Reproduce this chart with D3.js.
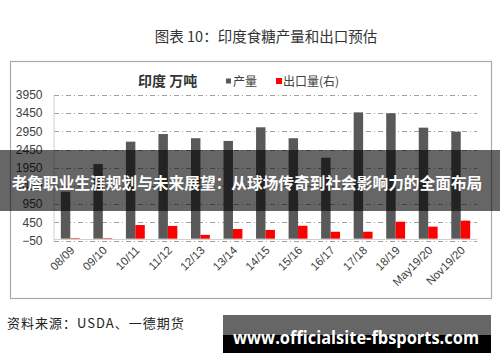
<!DOCTYPE html>
<html>
<head>
<meta charset="utf-8">
<script src="https://cdn.jsdelivr.net/npm/d3@7"></script>
<style>
  body { margin: 0; background: #fff; }
  svg { display: block; }
</style>
</head>
<body>
<div id="chart"></div>
<script>
// Data (万吨)
const seasons = ["08/09", "09/10", "10/11", "11/12", "12/13", "13/14", "14/15",
  "15/16", "16/17", "17/18", "18/19", "May19/20", "Nov19/20"];
const production = [1290, 2050, 2665, 2875, 2760, 2685, 3060, 2760, 2225, 3470, 3445, 3050, 2940];
const exports = [15, 15, 375, 350, 105, 265, 240, 355, 190, 190, 465, 330, 495];
const yTicks = [-50, 450, 950, 1450, 1950, 2450, 2950, 3450, 3950];

const w = 500;
const h = 362;
const cjk = "'Noto Sans CJK SC', sans-serif";

/************************************
 * Build the chart
 ************************************/
const svg = d3.select("#chart")
  .append("svg")
  .attr("width", w)
  .attr("height", h);

// Page title
svg.append("text")
  .attr("x", 266)
  .attr("y", 42)
  .attr("text-anchor", "middle")
  .style("font-family", cjk)
  .style("font-size", "14.5px")
  .style("fill", "#333")
  .text("图表 10：印度食糖产量和出口预估");

// Chart frame
svg.append("rect")
  .attr("x", 10.5)
  .attr("y", 61.5)
  .attr("width", 481)
  .attr("height", 237)
  .style("fill", "#fff")
  .style("stroke", "#aaa")
  .style("stroke-width", 1.2);

// Scales
const x0 = d3.scaleBand()
  .domain(seasons)
  .range([54, 477])
  .paddingInner(0.42)
  .paddingOuter(0.21);

const x1 = d3.scaleBand()
  .domain(["prod", "exp"])
  .range([0, x0.bandwidth()]);

const yLeft = d3.scaleLinear()
  .domain([-50, 3950])
  .range([240.5, 94.9]);

// right axis is not drawn, same range as left
const yRight = d3.scaleLinear()
  .domain([-50, 3950])
  .range([240.5, 94.9]);

// Gridlines
svg.append("g")
  .selectAll("line")
  .data(yTicks)
  .enter()
  .append("line")
  .attr("x1", 54)
  .attr("x2", 477)
  .attr("y1", d => Math.round(yLeft(d)) + 0.5)
  .attr("y2", d => Math.round(yLeft(d)) + 0.5)
  .style("stroke", "#a0a0a0")
  .style("stroke-dasharray", "5,3,1,3");

// Left axis
const yAxis = d3.axisLeft(yLeft)
  .tickValues(yTicks)
  .tickFormat(d3.format("d"))
  .tickSize(0)
  .tickPadding(11);

svg.append("g")
  .attr("transform", "translate(53.5,0)")
  .call(yAxis)
  .call(g => g.select(".domain").style("stroke", "#d0d0d0"))
  .call(g => g.selectAll("text")
    .style("font-family", "'Liberation Sans', Arial, sans-serif")
    .style("font-size", "12px")
    .style("fill", "#404040"));

// Bars
const groups = svg.append("g")
  .selectAll("g")
  .data(seasons)
  .enter()
  .append("g")
  .attr("transform", d => "translate(" + x0(d) + ",0)");

groups.append("rect")
  .attr("x", x1("prod"))
  .attr("y", (d, i) => yLeft(production[i]))
  .attr("width", x1.bandwidth())
  .attr("height", (d, i) => yLeft(0) - yLeft(production[i]))
  .style("fill", "#595959");

groups.append("rect")
  .attr("x", x1("exp"))
  .attr("y", (d, i) => yRight(exports[i]))
  .attr("width", x1.bandwidth())
  .attr("height", (d, i) => yRight(0) - yRight(exports[i]))
  .style("fill", "#ff0000");

// x axis line
svg.append("line")
  .attr("x1", 54)
  .attr("x2", 477)
  .attr("y1", Math.round(yLeft(0)) + 0.5)
  .attr("y2", Math.round(yLeft(0)) + 0.5)
  .style("stroke", "#d0d0d0");

// Category labels
svg.append("g")
  .selectAll("text")
  .data(seasons)
  .enter()
  .append("text")
  .attr("transform", d => "translate(" + (x0(d) + x0.bandwidth() / 2 + 5) + ",251) rotate(-45)")
  .attr("text-anchor", "end")
  .style("font-family", "'Liberation Sans', Arial, sans-serif")
  .style("font-size", "11.5px")
  .style("fill", "#404040")
  .text(d => d);

// Chart title & legend
svg.append("text")
  .attr("x", 138)
  .attr("y", 86)
  .style("font-family", cjk)
  .style("font-size", "14px")
  .style("font-weight", "bold")
  .style("fill", "#333")
  .text("印度 万吨");

svg.append("rect")
  .attr("x", 226)
  .attr("y", 78.5)
  .attr("width", 5)
  .attr("height", 5)
  .style("fill", "#595959");

svg.append("text")
  .attr("x", 233)
  .attr("y", 86)
  .style("font-family", cjk)
  .style("font-size", "12px")
  .style("fill", "#404040")
  .text("产量");

svg.append("rect")
  .attr("x", 276)
  .attr("y", 78)
  .attr("width", 6)
  .attr("height", 6)
  .style("fill", "#ff0000");

svg.append("text")
  .attr("x", 283)
  .attr("y", 86)
  .style("font-family", cjk)
  .style("font-size", "12px")
  .style("fill", "#404040")
  .text("出口量(右)");

// Source
svg.append("text")
  .attr("x", 7)
  .attr("y", 328)
  .style("font-family", cjk)
  .style("font-size", "13px")
  .style("letter-spacing", "1px")
  .style("fill", "#222")
  .text("资料来源：USDA、一德期货");

// Overlay banner
svg.append("rect")
  .attr("x", 0)
  .attr("y", 150)
  .attr("width", w)
  .attr("height", 61)
  .style("fill", "#000")
  .style("fill-opacity", 0.6);

svg.append("text")
  .attr("x", 247)
  .attr("y", 189)
  .attr("text-anchor", "middle")
  .style("font-family", cjk)
  .style("font-size", "15.7px")
  .style("font-weight", "bold")
  .style("fill", "#fff")
  .text("老詹职业生涯规划与未来展望：从球场传奇到社会影响力的全面布局");

// Watermark box
svg.append("rect")
  .attr("x", 223)
  .attr("y", 315)
  .attr("width", 268)
  .attr("height", 20)
  .style("fill", "#666");

svg.append("rect")
  .attr("x", 223)
  .attr("y", 335)
  .attr("width", 268)
  .attr("height", 18)
  .style("fill", "#000");

svg.append("text")
  .attr("x", 233)
  .attr("y", 344)
  .attr("textLength", 246)
  .attr("lengthAdjust", "spacingAndGlyphs")
  .style("font-family", "'Open Sans', sans-serif")
  .style("font-size", "17px")
  .style("font-weight", "bold")
  .style("fill", "#fff")
  .text("www.officialsite-fbsports.com");
</script>
</body>
</html>
